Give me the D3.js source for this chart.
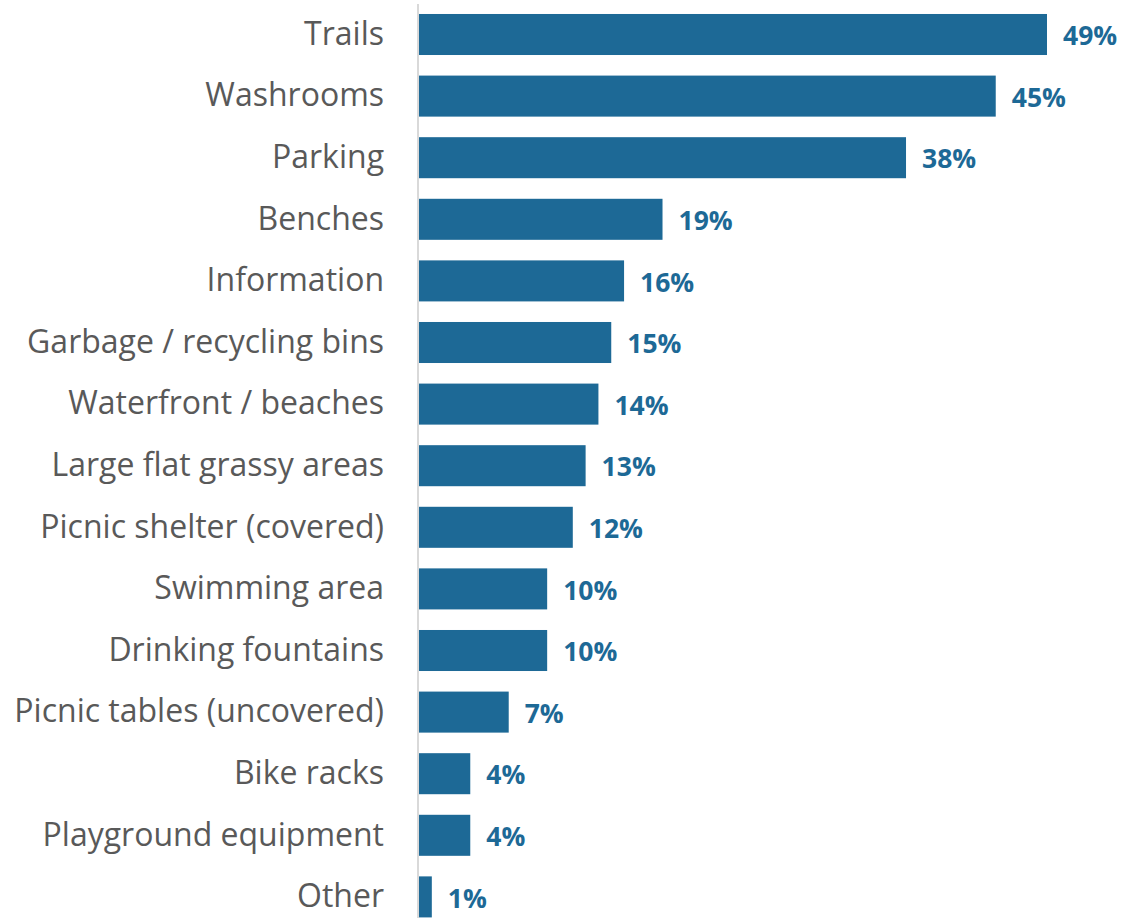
<!DOCTYPE html>
<html lang="en">
<head>
    <meta charset="utf-8">
    <title>Park amenities</title>
    <script src="https://d3js.org/d3.v7.min.js"></script>
    <style>
        body { margin: 0; background: #fff; }
    </style>
</head>
<body>
<div id="chart"></div>
<script>
    // Categories and values (percent)
    const categories = ["Trails", "Washrooms", "Parking", "Benches", "Information",
        "Garbage / recycling bins", "Waterfront / beaches", "Large flat grassy areas",
        "Picnic shelter (covered)", "Swimming area", "Drinking fountains",
        "Picnic tables (uncovered)", "Bike racks", "Playground equipment", "Other"];
    const values = [49, 45, 38, 19, 16, 15, 14, 13, 12, 10, 10, 7, 4, 4, 1];

    const width = 1122, height = 918;
    const axisX = 419;

    const svg = d3.select("#chart")
        .append("svg")
        .attr("width", width)
        .attr("height", height);

    const x = d3.scaleLinear()
        .domain([0, 49])
        .range([axisX, 1047]);

    const y = d3.scaleBand()
        .domain(categories)
        .range([3.7, 927.7])
        .paddingInner(0.334)
        .paddingOuter(0.167);

    // Bars
    svg.append("g")
        .selectAll("rect")
        .data(values)
        .join("rect")
        .attr("x", x(0))
        .attr("y", (d, i) => y(categories[i]))
        .attr("width", d => x(d) - x(0))
        .attr("height", y.bandwidth())
        .attr("fill", "#1d6996");

    // Vertical axis line
    svg.append("line")
        .attr("x1", axisX - 1).attr("x2", axisX - 1)
        .attr("y1", 4).attr("y2", height)
        .attr("stroke", "#d9d9d9")
        .attr("stroke-width", 2);

    // Category labels
    svg.append("g")
        .selectAll("text")
        .data(categories)
        .join("text")
        .attr("x", 384)
        .attr("y", d => y(d) + y.bandwidth() / 2 - 1)
        .attr("dy", "0.35em")
        .attr("text-anchor", "end")
        .attr("font-family", "'Open Sans', sans-serif")
        .attr("font-size", 32)
        .attr("fill", "#595959")
        .text(d => d);

    // Value labels
    svg.append("g")
        .selectAll("text")
        .data(values)
        .join("text")
        .attr("x", d => x(d) + 16)
        .attr("y", (d, i) => y(categories[i]) + y.bandwidth() / 2 + 1.5)
        .attr("dy", "0.35em")
        .attr("font-family", "'Open Sans', sans-serif")
        .attr("font-weight", "bold")
        .attr("font-size", 26.5)
        .attr("fill", "#1d6996")
        .text(d => d + "%");
</script>
</body>
</html>
